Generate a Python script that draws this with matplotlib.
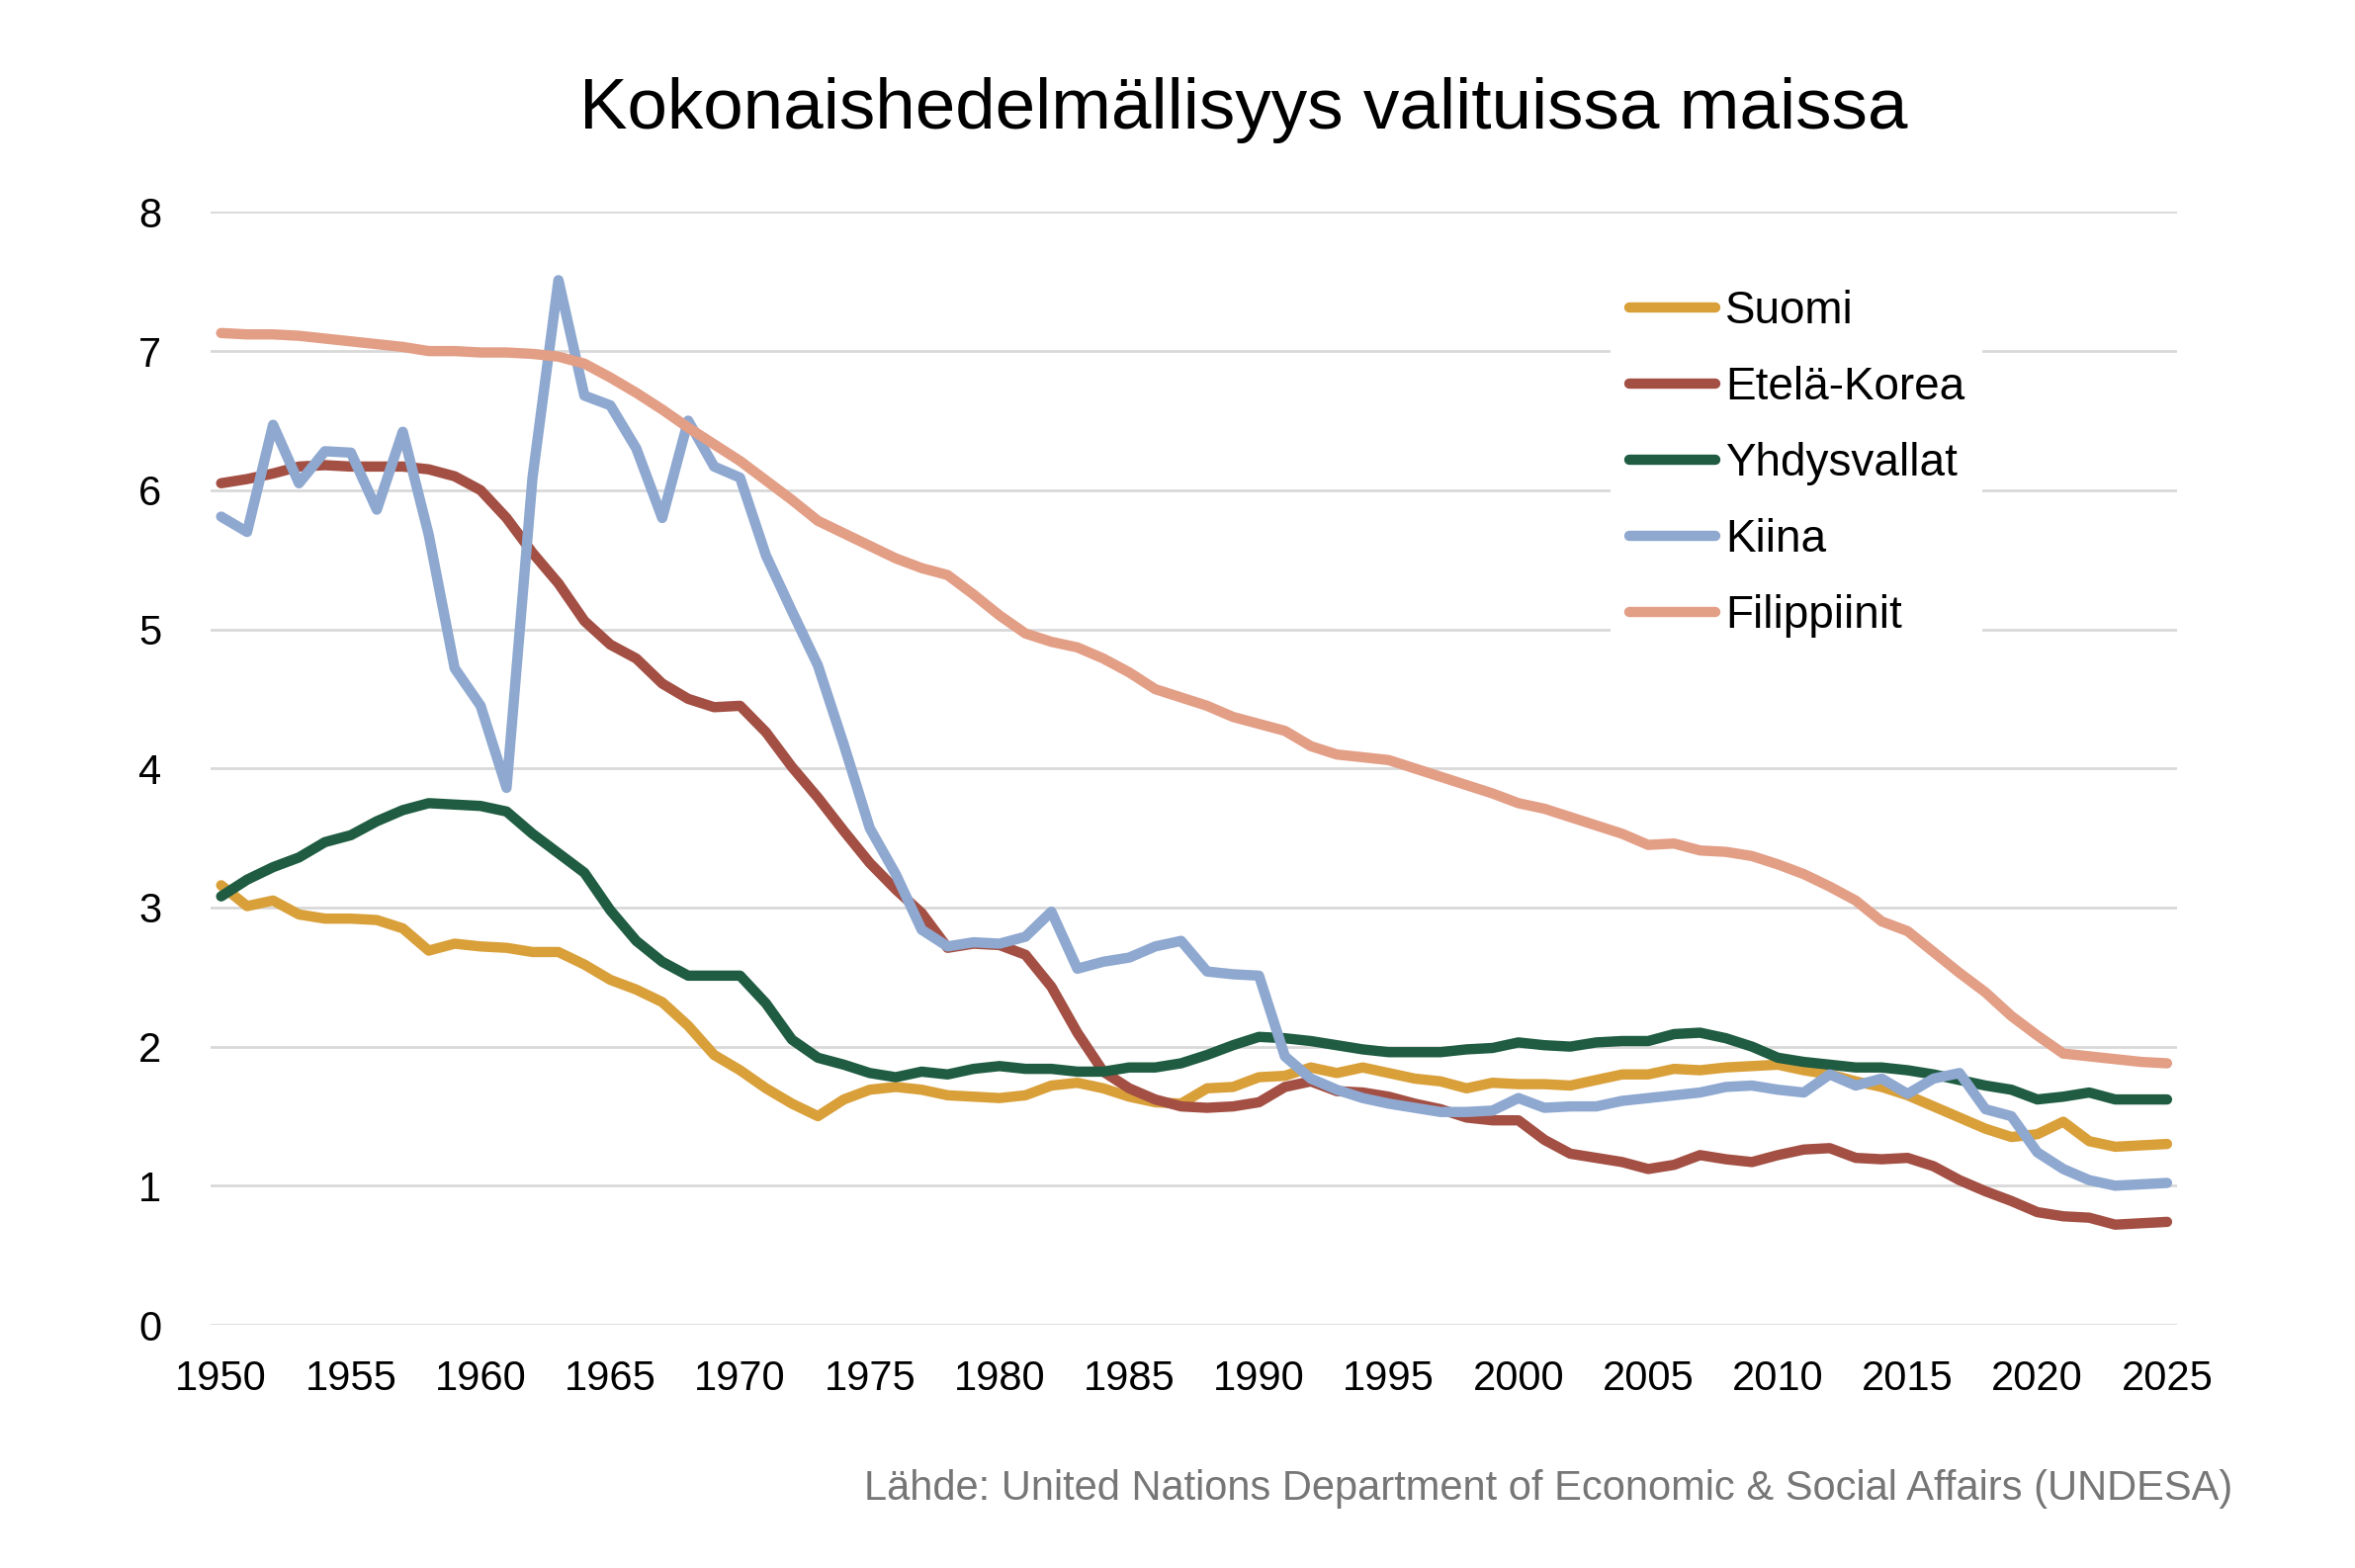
import matplotlib.pyplot as plt
import numpy as np

plt.rcParams['font.family'] = ['Liberation Sans', 'DejaVu Sans']

# Vuodet ja kokonaishedelmällisyysluvut (UN WPP)
vuodet = np.arange(1950, 2026)

suomi = [3.16, 3.01, 3.05, 2.95, 2.92, 2.92, 2.91, 2.85, 2.69, 2.74,
         2.72, 2.71, 2.68, 2.68, 2.59, 2.48, 2.41, 2.32, 2.15, 1.94,
         1.83, 1.70, 1.59, 1.50, 1.62, 1.69, 1.71, 1.69, 1.65, 1.64,
         1.63, 1.65, 1.72, 1.74, 1.70, 1.64, 1.60, 1.59, 1.70, 1.71,
         1.78, 1.79, 1.85, 1.81, 1.85, 1.81, 1.77, 1.75, 1.70, 1.74,
         1.73, 1.73, 1.72, 1.76, 1.80, 1.80, 1.84, 1.83, 1.85, 1.86,
         1.87, 1.83, 1.80, 1.75, 1.71, 1.65, 1.57, 1.49, 1.41, 1.35,
         1.37, 1.46, 1.32, 1.28, 1.29, 1.30]

etela_korea = [6.05, 6.08, 6.12, 6.17, 6.18, 6.17, 6.17, 6.17, 6.15, 6.10,
               6.00, 5.80, 5.55, 5.33, 5.06, 4.89, 4.79, 4.61, 4.50, 4.44,
               4.45, 4.26, 4.01, 3.79, 3.55, 3.32, 3.13, 2.96, 2.71, 2.74,
               2.73, 2.66, 2.43, 2.10, 1.82, 1.70, 1.62, 1.57, 1.56, 1.57,
               1.60, 1.71, 1.75, 1.68, 1.67, 1.64, 1.59, 1.55, 1.49, 1.47,
               1.47, 1.33, 1.23, 1.20, 1.17, 1.12, 1.15, 1.22, 1.19, 1.17,
               1.22, 1.26, 1.27, 1.20, 1.19, 1.20, 1.14, 1.04, 0.96, 0.89,
               0.81, 0.78, 0.77, 0.72, 0.73, 0.74]

yhdysvallat = [3.08, 3.20, 3.29, 3.36, 3.47, 3.52, 3.62, 3.70, 3.75, 3.74,
               3.73, 3.69, 3.53, 3.39, 3.25, 2.98, 2.76, 2.61, 2.51, 2.51,
               2.51, 2.31, 2.05, 1.92, 1.87, 1.81, 1.78, 1.82, 1.80, 1.84,
               1.86, 1.84, 1.84, 1.82, 1.82, 1.85, 1.85, 1.88, 1.94, 2.01,
               2.07, 2.06, 2.04, 2.01, 1.98, 1.96, 1.96, 1.96, 1.98, 1.99,
               2.03, 2.01, 2.00, 2.03, 2.04, 2.04, 2.09, 2.10, 2.06, 2.00,
               1.92, 1.89, 1.87, 1.85, 1.85, 1.83, 1.80, 1.76, 1.72, 1.69,
               1.62, 1.64, 1.67, 1.62, 1.62, 1.62]

kiina = [5.81, 5.70, 6.47, 6.05, 6.28, 6.27, 5.86, 6.42, 5.68, 4.72,
         4.45, 3.86, 6.09, 7.51, 6.68, 6.61, 6.30, 5.80, 6.50, 6.17,
         6.09, 5.53, 5.13, 4.74, 4.17, 3.57, 3.24, 2.84, 2.72, 2.75,
         2.74, 2.79, 2.97, 2.56, 2.61, 2.64, 2.72, 2.76, 2.54, 2.52,
         2.51, 1.93, 1.77, 1.69, 1.63, 1.59, 1.56, 1.53, 1.53, 1.54,
         1.63, 1.56, 1.57, 1.57, 1.61, 1.63, 1.65, 1.67, 1.71, 1.72,
         1.69, 1.67, 1.80, 1.72, 1.77, 1.66, 1.77, 1.81, 1.55, 1.50,
         1.24, 1.12, 1.04, 1.00, 1.01, 1.02]

filippiinit = [7.13, 7.12, 7.12, 7.11, 7.09, 7.07, 7.05, 7.03, 7.00, 7.00,
               6.99, 6.99, 6.98, 6.96, 6.91, 6.81, 6.70, 6.58, 6.45, 6.33,
               6.21, 6.07, 5.93, 5.78, 5.69, 5.60, 5.51, 5.44, 5.39, 5.25,
               5.10, 4.97, 4.91, 4.87, 4.79, 4.69, 4.57, 4.51, 4.45, 4.37,
               4.32, 4.27, 4.16, 4.10, 4.08, 4.06, 4.00, 3.94, 3.88, 3.82,
               3.75, 3.71, 3.65, 3.59, 3.53, 3.45, 3.46, 3.41, 3.40, 3.37,
               3.31, 3.24, 3.15, 3.05, 2.90, 2.83, 2.68, 2.53, 2.39, 2.22,
               2.08, 1.95, 1.93, 1.91, 1.89, 1.88]

sarjat = [("Suomi", suomi, "#D9A03A"),
          ("Etelä-Korea", etela_korea, "#A34F43"),
          ("Yhdysvallat", yhdysvallat, "#1F5C42"),
          ("Kiina", kiina, "#8EA8D0"),
          ("Filippiinit", filippiinit, "#E39E86")]

fig = plt.figure(figsize=(23.82, 15.86), dpi=100)
ax = fig.add_axes([0.0895, 0.1551, 0.8351, 0.7097])

for nimi, arvot, vari in sarjat:
    ax.plot(vuodet, arvot, color=vari, lw=7.5, label=nimi,
            solid_capstyle='round', solid_joinstyle='round')

ax.set_xlim(1949.6, 2025.4)
ax.set_ylim(0, 8)
ax.set_xticks(np.arange(1950, 2026, 5))
ax.set_yticks(np.arange(0, 9, 1))
ax.grid(axis='y', color='#D9D9D9', lw=2)
ax.set_axisbelow(True)
for s in ax.spines.values():
    s.set_visible(False)
ax.tick_params(axis='both', length=0, labelsize=30)
ax.tick_params(axis='y', pad=36)
ax.tick_params(axis='x', pad=25)

fig.text(0.528, 0.930, "Kokonaishedelmällisyys valituissa maissa",
         ha='center', va='center', fontsize=52.5)

leg = ax.legend(loc='upper left', bbox_to_anchor=(0.684, 0.827),
                bbox_transform=fig.transFigure, borderaxespad=0,
                fontsize=33, handlelength=1.9, handletextpad=0.22,
                labelspacing=0.72, frameon=True, fancybox=False)
leg.get_frame().set_facecolor('white')
leg.get_frame().set_edgecolor('none')
leg.get_frame().set_alpha(1)

fig.text(0.948, 0.0505,
         "Lähde: United Nations Department of Economic & Social Affairs (UNDESA)",
         ha='right', va='center', fontsize=30, color='#767676')

fig.savefig("out.png", dpi=100, facecolor='white')
